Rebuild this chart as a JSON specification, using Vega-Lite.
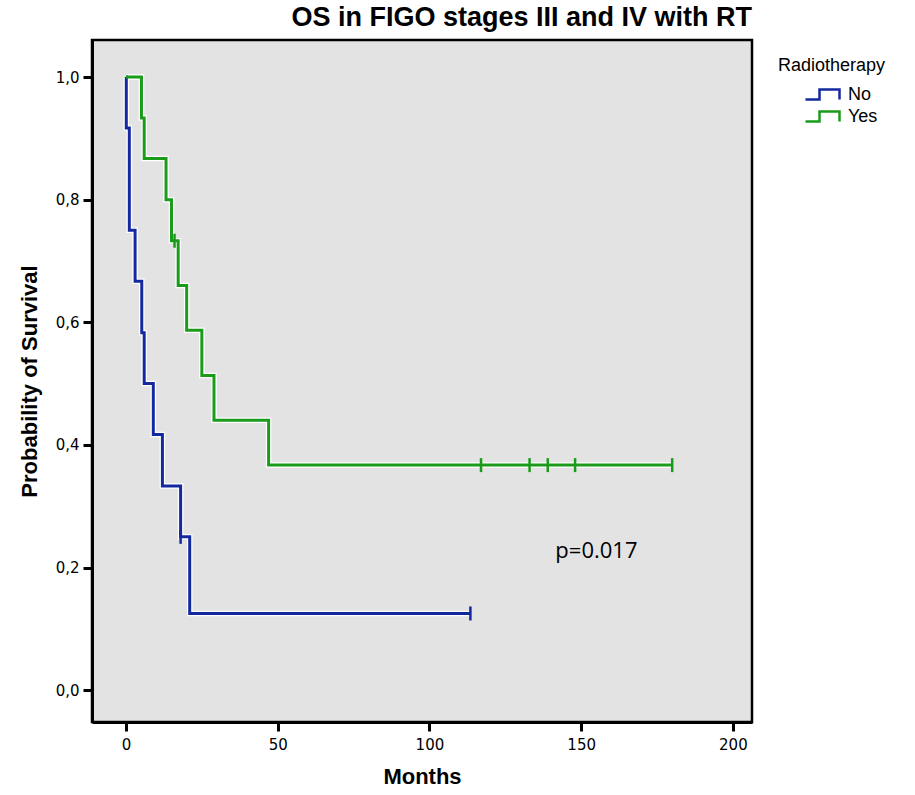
{
  "$schema": "https://vega.github.io/schema/vega-lite/v6.json",
  "autosize": {"type": "none"},
  "padding": {"left": 92, "top": 40, "right": 163, "bottom": 73},
  "width": 660,
  "height": 682,
  "background": "white",
  "title": {
    "text": "OS in FIGO stages III and IV with RT",
    "anchor": "end",
    "frame": "group",
    "font": "Liberation Sans",
    "fontSize": 27,
    "fontWeight": "bold",
    "color": "black",
    "offset": 8
  },
  "datasets": {
    "curves": [
      {"group": "No", "month": 0, "surv": 1.0},
      {"group": "No", "month": 0.1, "surv": 0.917},
      {"group": "No", "month": 1.1, "surv": 0.75},
      {"group": "No", "month": 3, "surv": 0.667},
      {"group": "No", "month": 5.2, "surv": 0.583},
      {"group": "No", "month": 6, "surv": 0.5},
      {"group": "No", "month": 9, "surv": 0.417},
      {"group": "No", "month": 12, "surv": 0.333},
      {"group": "No", "month": 18, "surv": 0.25},
      {"group": "No", "month": 21, "surv": 0.125},
      {"group": "No", "month": 113.5, "surv": 0.125},
      {"group": "Yes", "month": 0, "surv": 1.0},
      {"group": "Yes", "month": 5.1, "surv": 0.933},
      {"group": "Yes", "month": 6, "surv": 0.867},
      {"group": "Yes", "month": 13.2, "surv": 0.8},
      {"group": "Yes", "month": 15, "surv": 0.733},
      {"group": "Yes", "month": 17.2, "surv": 0.66},
      {"group": "Yes", "month": 20, "surv": 0.587},
      {"group": "Yes", "month": 25, "surv": 0.513},
      {"group": "Yes", "month": 29, "surv": 0.44},
      {"group": "Yes", "month": 47, "surv": 0.367},
      {"group": "Yes", "month": 180, "surv": 0.367}
    ],
    "censors": [
      {"group": "No", "month": 18, "surv": 0.25},
      {"group": "No", "month": 113.5, "surv": 0.125},
      {"group": "Yes", "month": 16, "surv": 0.733},
      {"group": "Yes", "month": 117, "surv": 0.367},
      {"group": "Yes", "month": 133, "surv": 0.367},
      {"group": "Yes", "month": 139, "surv": 0.367},
      {"group": "Yes", "month": 148, "surv": 0.367},
      {"group": "Yes", "month": 180, "surv": 0.367}
    ],
    "annot": [
      {"label": "p=0.017", "month": 141.5, "surv": 0.215}
    ]
  },
  "config": {
    "view": {"fill": "#e3e3e3", "stroke": "black", "strokeWidth": 2.5},
    "axis": {
      "domainColor": "black",
      "domainWidth": 3,
      "tickColor": "black",
      "tickWidth": 3,
      "tickSize": 9,
      "grid": false,
      "labelFont": "DejaVu Sans",
      "labelFontSize": 15,
      "labelColor": "black",
      "titleFont": "Liberation Sans",
      "titleFontSize": 22,
      "titleFontWeight": "bold",
      "titleColor": "black"
    }
  },
  "layer": [
    {
      "data": {"name": "curves"},
      "mark": {"type": "line", "interpolate": "step-after", "strokeWidth": 5.5, "color": "white", "strokeJoin": "miter"},
      "encoding": {
        "x": {"field": "month", "type": "quantitative"},
        "y": {"field": "surv", "type": "quantitative"},
        "detail": {"field": "group"}
      }
    },
    {
      "data": {"name": "curves"},
      "mark": {"type": "line", "interpolate": "step-after", "strokeWidth": 3, "strokeJoin": "miter"},
      "encoding": {
        "x": {
          "field": "month", "type": "quantitative",
          "scale": {"domain": [-11.2, 206.3], "nice": false, "zero": false},
          "axis": {"values": [0, 50, 100, 150, 200], "title": "Months", "labelPadding": 6, "titlePadding": 14}
        },
        "y": {
          "field": "surv", "type": "quantitative",
          "scale": {"domain": [-0.052, 1.0604], "nice": false, "zero": false},
          "axis": {
            "values": [0, 0.2, 0.4, 0.6, 0.8, 1.0],
            "labelExpr": "replace(format(datum.value, '.1f'), '.', ',')",
            "title": "Probability of Survival",
            "labelPadding": 4,
            "titlePadding": 14
          }
        },
        "color": {
          "field": "group", "type": "nominal",
          "scale": {"domain": ["No", "Yes"], "range": ["#1428a0", "#1a9c1a"]},
          "legend": {
            "title": "Radiotherapy",
            "orient": "none",
            "legendX": 686,
            "legendY": 17,
            "padding": 0,
            "titleFont": "Liberation Sans",
            "titleFontSize": 18,
            "titleFontWeight": "normal",
            "titleColor": "black",
            "titlePadding": 8,
            "labelFont": "Liberation Sans",
            "labelFontSize": 18,
            "labelColor": "black",
            "labelOffset": 14,
            "symbolType": "M-1.7,0.5H-0.3V-0.5H1.7V0.5",
            "symbolSize": 400,
            "symbolStrokeWidth": 2.5,
            "symbolFillColor": "transparent",
            "symbolOffset": 33,
            "rowPadding": -2
          }
        }
      }
    },
    {
      "data": {"name": "censors"},
      "mark": {"type": "point", "shape": "M0,-1V1", "size": 196, "strokeWidth": 2.5, "filled": false, "opacity": 1},
      "encoding": {
        "x": {"field": "month", "type": "quantitative"},
        "y": {"field": "surv", "type": "quantitative"},
        "color": {"field": "group", "type": "nominal", "legend": null}
      }
    },
    {
      "data": {"name": "annot"},
      "mark": {"type": "text", "align": "left", "baseline": "alphabetic", "font": "Open Sans", "fontSize": 22, "color": "black"},
      "encoding": {
        "x": {"field": "month", "type": "quantitative"},
        "y": {"field": "surv", "type": "quantitative"},
        "text": {"field": "label"}
      }
    }
  ]
}
